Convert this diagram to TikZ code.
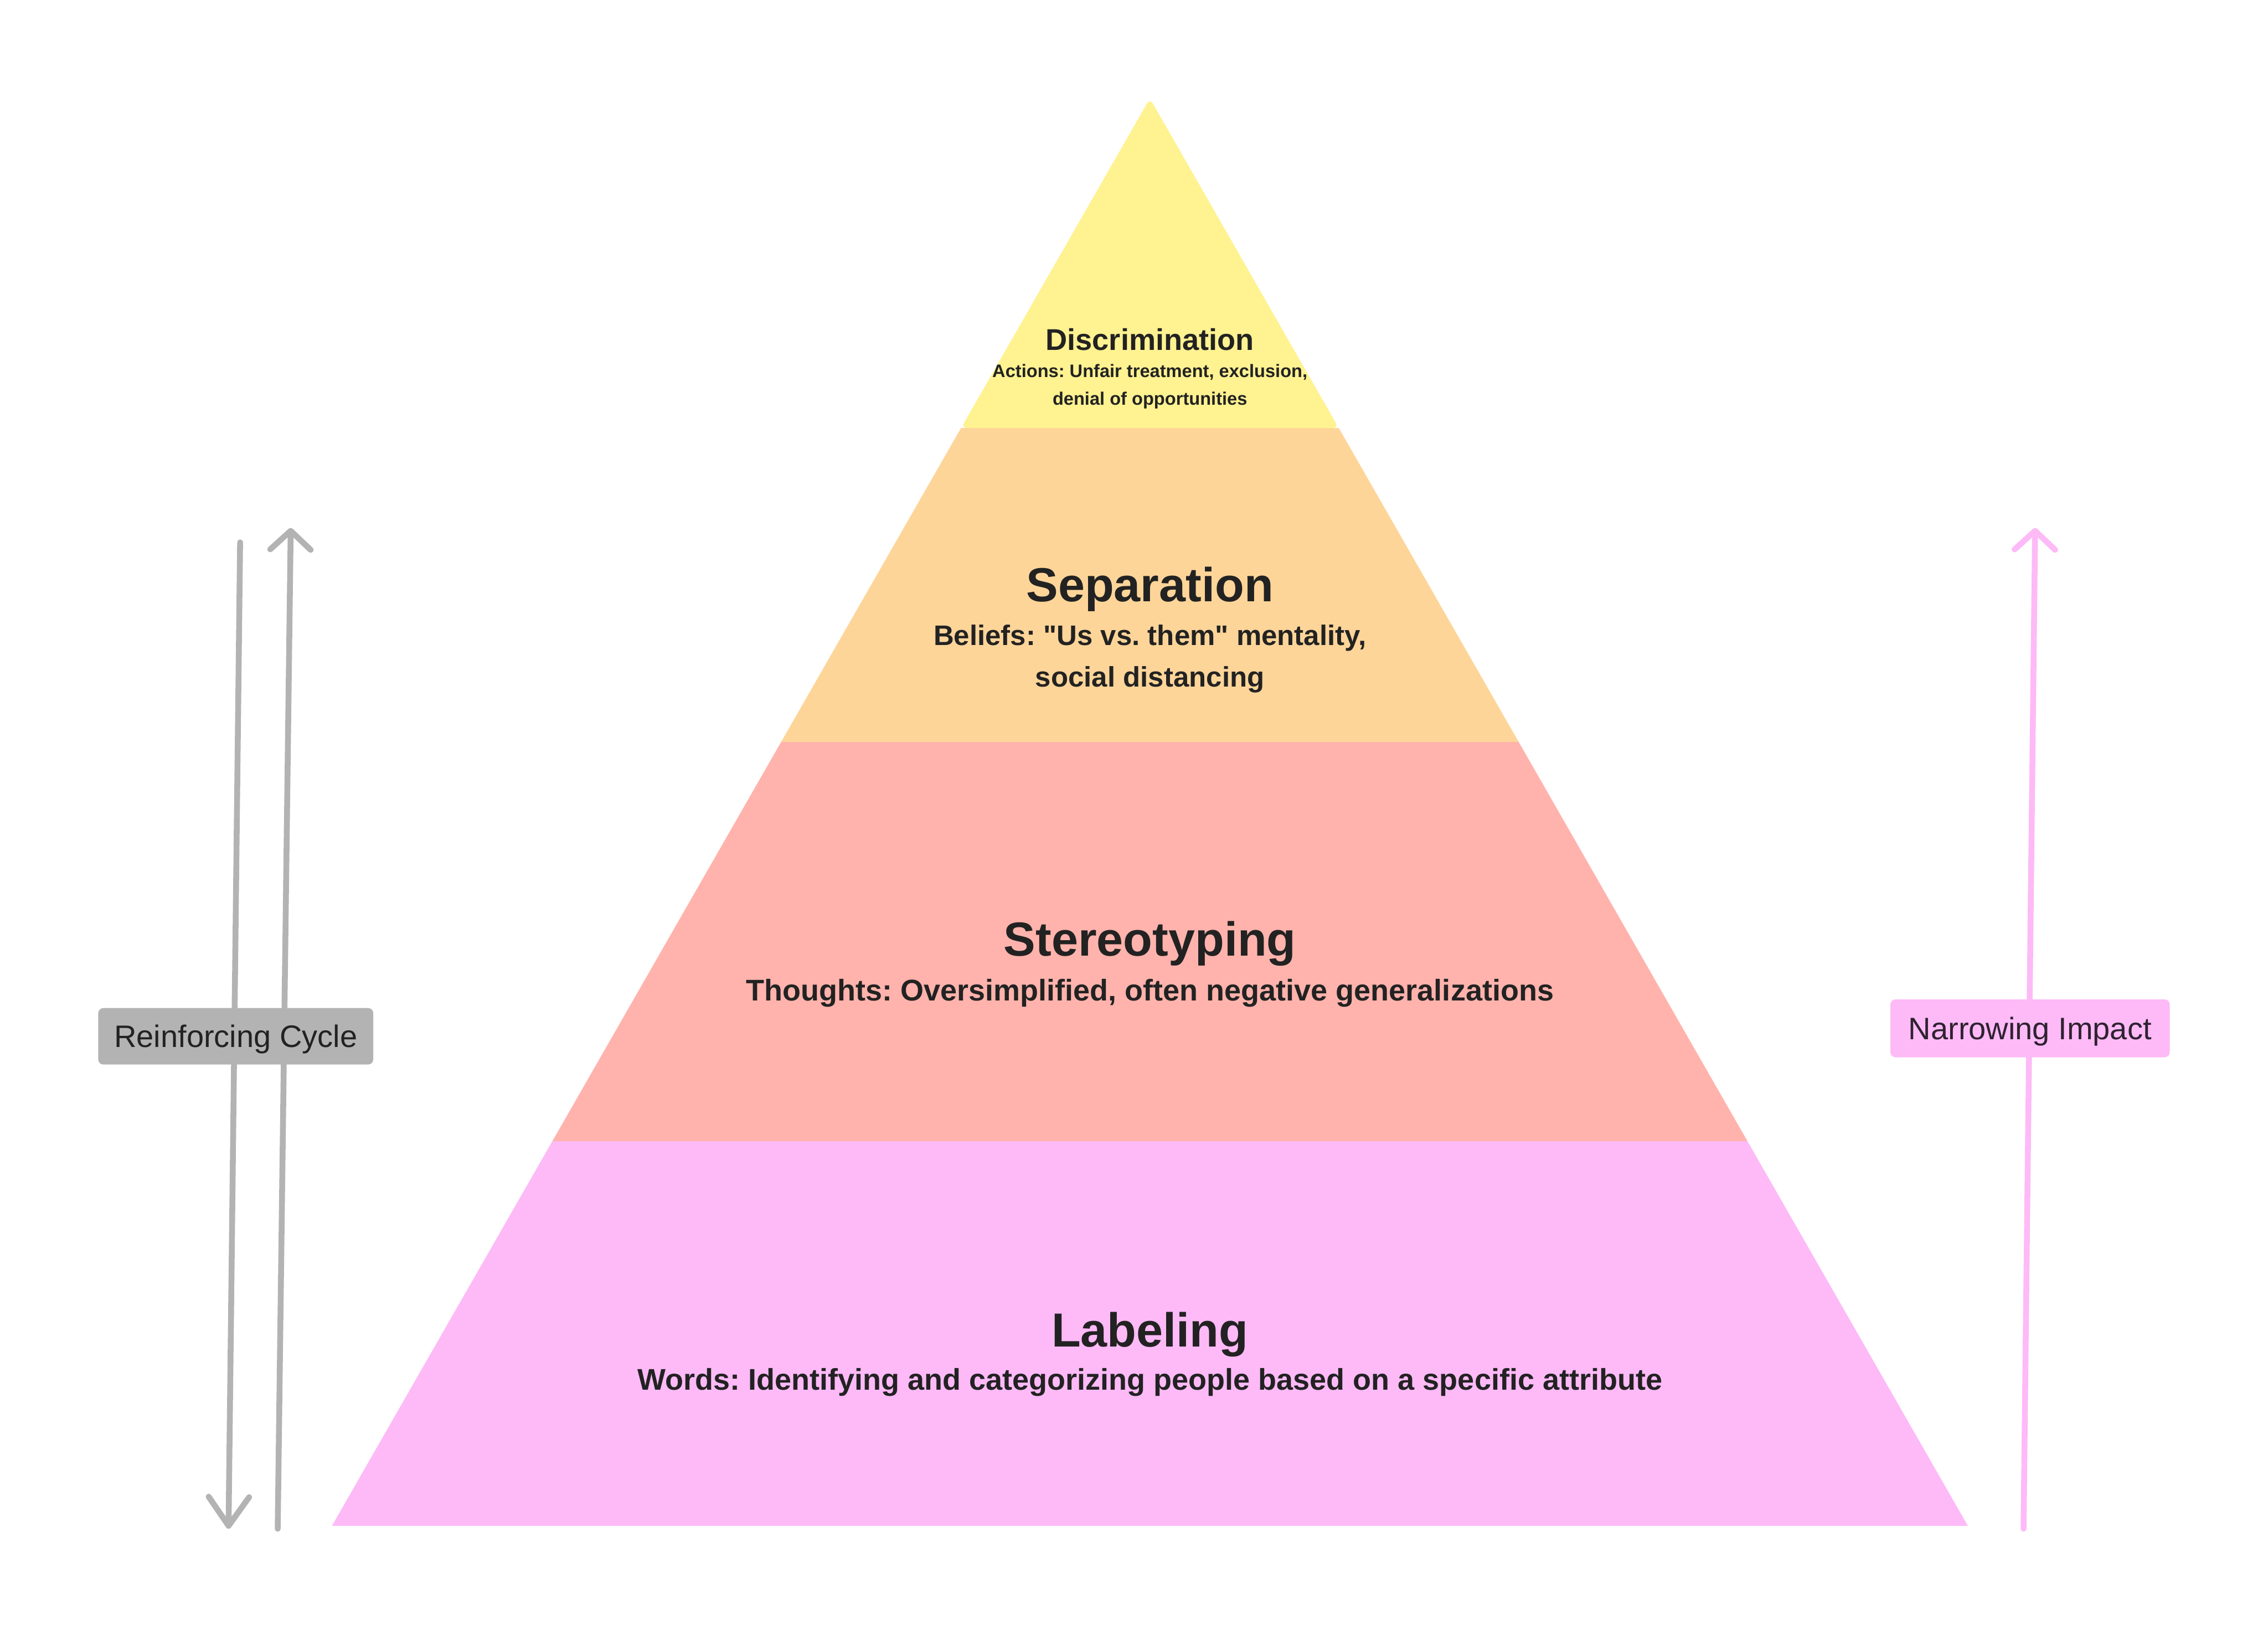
\documentclass[tikz,border=0pt]{standalone}
\usepackage{fontspec}
\setmainfont{Liberation Sans}[Ligatures=TeXOff]
\usetikzlibrary{arrows.meta, positioning}

\definecolor{discYellow}{RGB}{255,242,145}
\definecolor{sepOrange}{RGB}{254,213,153}
\definecolor{stereoRed}{RGB}{255,179,172}
\definecolor{labelPink}{RGB}{253,186,247}
\definecolor{cycleGray}{RGB}{179,179,179}
\definecolor{inkDark}{RGB}{34,34,34}
\definecolor{impactInk}{RGB}{46,34,48}

\frenchspacing

\begin{document}
\begin{tikzpicture}[
    x=0.01cm,
    y=-0.01cm,
    title/.style={
        font=\bfseries\fontsize{9.4}{11}\selectfont,
        text=inkDark,
        inner sep=0pt,
        anchor=base
    },
    desc/.style={
        font=\bfseries\fontsize{5.88}{8.2}\selectfont,
        text=inkDark,
        align=center,
        inner sep=0pt,
        anchor=base
    },
    tag/.style={
        rounded corners=1pt,
        minimum width=1.9cm,
        minimum height=0.39cm,
        inner sep=0pt,
        text depth=0pt,
        font=\fontsize{6.1}{7}\selectfont
    },
    flow/.style={
        line width=1.15pt,
        line cap=round,
        line join=round
    },
    downtip/.style={-{Straight Barb[length=0.2cm, width=0.28cm, round]}},
    uptip/.style={-{Straight Barb[length=0.13cm, width=0.28cm, round]}}
]

\useasboundingbox (0,0) rectangle (1568,1127);

% Pyramid layers
\foreach \ya/\yb/\fillc in {789/1055/labelPink, 513/789/stereoRed, 296/513/sepOrange} {
    \pgfmathsetmacro{\wa}{0.57295*(\ya-68)}
    \pgfmathsetmacro{\wb}{0.57295*(\yb-68)}
    \fill[\fillc]
        (795-\wa,\ya) -- (795+\wa,\ya) -- (795+\wb,\yb) -- (795-\wb,\yb) -- cycle;
}

\fill[discYellow, rounded corners=1.2pt]
    (795,68) -- (925.6,296) -- (664.4,296) -- cycle;

% Layer texts (multi-line texts sit on their last baseline)
\node[title, font=\bfseries\fontsize{5.9}{7}\selectfont] (discT) at (795,242) {Discrimination};
\node[desc, font=\bfseries\fontsize{3.55}{5.4}\selectfont] (discD) at (795,280)
    {Actions: Unfair treatment, exclusion,\\denial of opportunities};

\node[title] (sepT) at (795,416) {Separation};
\node[desc, font=\bfseries\fontsize{5.55}{8.2}\selectfont] (sepD) at (795,475)
    {Beliefs: "Us vs. them" mentality,\\social distancing};

\node[title] (stereoT) at (795,661) {Stereotyping};
\node[desc] (stereoD) at (795,692)
    {Thoughts: Oversimplified, often negative generalizations};

\node[title] (labelT) at (795,931) {Labeling};
\node[desc] (labelD) at (795,961)
    {Words: Identifying and categorizing people based on a specific attribute};

% Side arrows
\coordinate (cycDownTop) at (166,375);
\coordinate (cycDownEnd) at (158,1057);
\coordinate (cycUpStart) at (192,1057);
\coordinate (cycUpEnd) at (201,365);
\coordinate (impStart) at (1399,1057);
\coordinate (impEnd) at (1407,365);

\draw[flow, cycleGray, downtip] (cycDownTop) -- (cycDownEnd);
\draw[flow, cycleGray, uptip] (cycUpStart) -- (cycUpEnd);
\draw[flow, labelPink, uptip] (impStart) -- (impEnd);

% Side labels
\node[tag, fill=cycleGray, text=inkDark] (cycleLbl) at (163,716.5) {Reinforcing Cycle};
\node[tag, fill=labelPink, text=impactInk, minimum width=1.93cm, minimum height=0.40cm]
    (impactLbl) at (1403.5,711) {Narrowing Impact};

\end{tikzpicture}
\end{document}
